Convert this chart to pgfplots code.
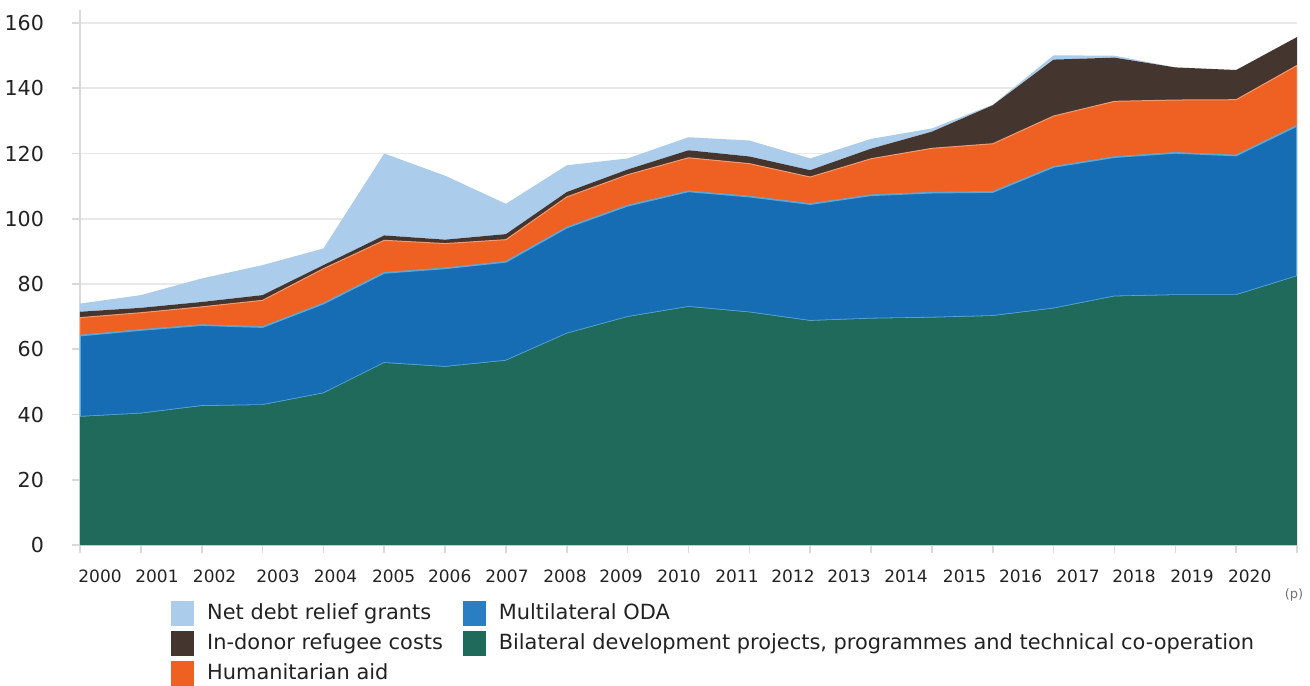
\documentclass[border=0pt]{standalone}
\usepackage{fontspec}
\setmainfont{DejaVu Sans}
\usepackage{pgfplots}
\usepackage{pgfplotstable}
\pgfplotsset{compat=1.18}
\definecolor{cLight}{HTML}{ABCDEB}
\definecolor{cBrown}{HTML}{45352F}
\definecolor{cOrange}{HTML}{EE6123}
\definecolor{cBlue}{HTML}{176DB4}
\definecolor{cBlueLeg}{HTML}{2A7EC3}
\definecolor{cGreen}{HTML}{1F6A5B}
\definecolor{cEdgeB}{HTML}{5AA8DA}
\definecolor{cEdgeO}{HTML}{F29A72}
\definecolor{cText}{HTML}{222222}
% x: 0 = 2000 ... 20 = 2020 (p)
% g: bilateral, b: multilateral, o: humanitarian, r: in-donor refugee, l: debt relief
\pgfplotstableread{
x  g     b     o     r     l
0  39.3  24.9  5.5   1.8   2.5
1  40.3  25.6  5.3   1.5   3.9
2  42.6  24.8  5.6   1.5   7.2
3  42.9  23.9  8.2   1.6   9.2
4  46.5  27.5  10.7  1.1   5.1
5  55.8  27.6  10.0  1.5   25.1
6  54.6  30.2  7.6   1.2   19.6
7  56.5  30.3  6.8   1.7   9.3
8  64.8  32.5  9.4   1.5   8.2
9  69.9  34.1  9.5   1.6   3.4
10 73.0  35.4  10.3  2.3   4.0
11 71.3  35.5  10.1  2.2   4.9
12 68.7  35.8  8.3   2.1   3.6
13 69.4  37.8  11.2  3.1   3.0
14 69.7  38.3  13.6  5.1   1.0
15 70.2  38.0  14.8  11.8  0.2
16 72.5  43.4  15.6  17.3  1.3
17 76.2  42.7  17.1  13.4  0.6
18 76.6  43.6  16.2  10.0  0.0
19 76.6  42.8  17.1  9.1   0.0
20 82.4  46.1  18.5  8.7   0.0
}\dataoda
\begin{document}
\begin{tikzpicture}
\path[use as bounding box] (-40pt,-70pt) rectangle (615pt,272.5pt);
\begin{axis}[
  scale only axis, width=608.5pt, height=267.5pt,
  xmin=0, xmax=20, ymin=0, ymax=164,
  axis x line*=bottom, axis y line*=left,
  axis line style={draw=black!15, -, line width=0.8pt},
  tick align=outside, major tick length=4pt,
  tick style={draw=black!15, line width=0.8pt},
  ytick={0,20,...,160},
  ymajorgrids, grid style={draw=black!9, line width=0.9pt},
  /pgf/number format/assume math mode=true,
  yticklabel style={font=\fontsize{10.3}{12}\selectfont, text=cText, anchor=east, xshift=-10.5pt},
  xtick={0,...,20}, xticklabels={},
  extra x ticks={0.329,1.265,2.212,3.254,4.199,5.155,6.076,7.017,7.970,8.891,9.844,10.797,11.717,12.638,13.574,14.537,15.458,16.401,17.321,18.274,19.223},
  extra x tick labels={2000,2001,2002,2003,2004,2005,2006,2007,2008,2009,2010,2011,2012,2013,2014,2015,2016,2017,2018,2019,2020},
  extra x tick style={major tick length=0pt, xmajorgrids=false,
    xticklabel style={font=\fontsize{8.5}{10}\selectfont, text=cText, anchor=north, yshift=-9pt}},
  stack plots=y,
  legend image code/.code={\fill[#1] (0pt,-6pt) rectangle (11pt,6pt);},
  legend columns=2,
  legend cell align=left,
  legend style={at={(0.0748,-0.104)}, anchor=north west, draw=none, fill=none,
    inner sep=0pt, font=\fontsize{10.45}{12}\selectfont, text=cText,
    row sep=2.6pt,
    /tikz/every even column/.append style={column sep=3.5pt},
    nodes={inner sep=0pt, inner xsep=6.5pt}},
]
\addplot[fill=cGreen, draw=none, forget plot] table[x=x, y=g] {\dataoda} \closedcycle;
\addplot[fill=cBlue, draw=cEdgeB, line width=0.8pt, forget plot] table[x=x, y=b] {\dataoda} \closedcycle;
\addplot[fill=cOrange, draw=cEdgeO, line width=0.5pt, forget plot] table[x=x, y=o] {\dataoda} \closedcycle;
\addplot[fill=cBrown, draw=none, forget plot] table[x=x, y=r] {\dataoda} \closedcycle;
\addplot[fill=cLight, draw=none, forget plot] table[x=x, y=l] {\dataoda} \closedcycle;
\addlegendimage{cLight}
\addlegendentry{Net debt relief grants}
\addlegendimage{cBlueLeg}
\addlegendentry{Multilateral ODA}
\addlegendimage{cBrown}
\addlegendentry{In-donor refugee costs}
\addlegendimage{cGreen}
\addlegendentry{Bilateral development projects, programmes and technical co-operation}
\addlegendimage{cOrange}
\addlegendentry{Humanitarian aid}
\end{axis}
\node[font=\fontsize{6.5}{7}\selectfont, text=black!55] at (607pt,-25pt) {(p)};
\end{tikzpicture}
\end{document}
